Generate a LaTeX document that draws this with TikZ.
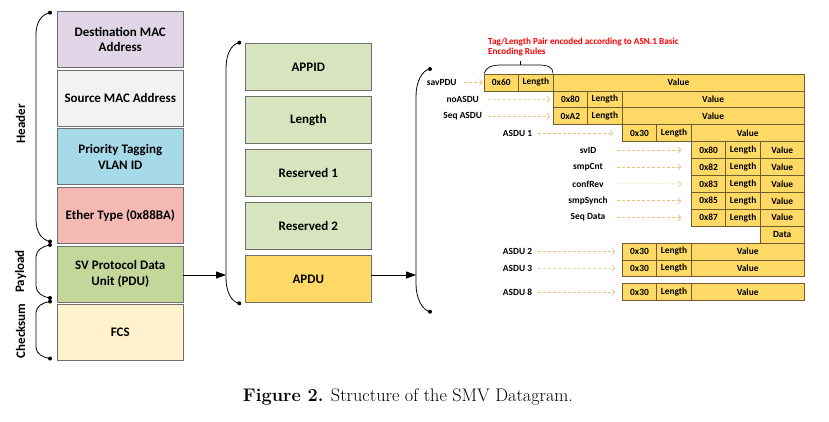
\documentclass[tikz,border=0pt]{standalone}
\usepackage{fontspec}
\newfontfamily\carl{Carlito}
\usetikzlibrary{arrows.meta}
\definecolor{destcol}{HTML}{E1D5E7}
\definecolor{srccol}{HTML}{F2F2F2}
\definecolor{pricol}{HTML}{A7DAE8}
\definecolor{ethcol}{HTML}{F4B9B4}
\definecolor{pducol}{HTML}{C4D79B}
\definecolor{fcscol}{HTML}{FFF2CC}
\definecolor{midcol}{HTML}{D7E4BD}
\definecolor{gold}{HTML}{FFD966}
\definecolor{boxgray}{HTML}{6F6F6F}
\definecolor{celldraw}{HTML}{6E5E2E}
\definecolor{dashcol}{HTML}{EDC27C}
\definecolor{redtxt}{HTML}{FF0000}
\begin{document}
\begin{tikzpicture}[x=1pt,y=-1pt,
  lbox/.style={draw=boxgray, line width=0.8pt, minimum width=126pt, minimum height=56pt, anchor=north west, inner sep=0pt, outer sep=0pt, align=center, font=\carl\bfseries\fontsize{13}{15.5}\selectfont},
  mbox/.style={lbox, minimum height=47.5pt},
  cell/.style={draw=celldraw, fill=gold, line width=0.8pt, minimum width=34.55pt, minimum height=16.9pt, anchor=north west, inner sep=0pt, outer sep=0pt, font=\carl\bfseries\fontsize{9.4}{11}\selectfont},
  tlabel/.style={font=\carl\bfseries\fontsize{9.4}{11}\selectfont, inner sep=0pt, outer sep=0pt, align=center},
  darr/.style={draw=dashcol, dash pattern=on 3pt off 2pt, line width=0.7pt, -{Straight Barb[length=2.5pt,width=6pt]}},
  arr/.style={line width=0.8pt, -{Triangle[length=10pt,width=7pt]}},
  brk/.style={line width=0.8pt},
  bdot/.style={circle, fill=black, inner sep=0pt, minimum size=4pt},
  side/.style={rotate=90, font=\carl\bfseries\fontsize{13}{15}\selectfont, inner sep=0pt}]
\useasboundingbox (0,0) rectangle (829,421);

% ---------- left column ----------
\node[lbox, fill=destcol] (dest) at (57.3,11.5) {Destination MAC\\Address};
\node[lbox, fill=srccol] (src) at (57.3,70.1) {Source MAC Address};
\node[lbox, fill=pricol] (prio) at (57.3,128.7) {Priority Tagging\\VLAN ID};
\node[lbox, fill=ethcol] (eth) at (57.3,187.3) {Ether Type (0x88BA)};
\node[lbox, fill=pducol] (pdu) at (57.3,245.9) {SV Protocol Data\\Unit (PDU)};
\node[lbox, fill=fcscol] (fcs) at (57.3,304.5) {FCS};

% left brackets
\node[bdot] (hT) at (50,12.7) {};
\node[bdot] (hB) at (50,241.5) {};
\node[bdot] (pT) at (50,245) {};
\node[bdot] (pB) at (50,298) {};
\node[bdot] (cT) at (50,301.5) {};
\node[bdot] (cB) at (50,358.5) {};
\draw[brk] (hT.center) .. controls (42,14) and (36,22) .. (36,34) -- (36,220) .. controls (36,232) and (42,240) .. (hB.center);
\draw[brk] (pT.center) .. controls (43,246) and (36,250) .. (36,257) -- (36,286) .. controls (36,293) and (43,297) .. (pB.center);
\draw[brk] (cT.center) .. controls (43,302.5) and (36,306) .. (36,313) -- (36,347) .. controls (36,354) and (43,357.5) .. (cB.center);
\node[side] (hdr) at (20.7,124) {Header};
\node[side] (pay) at (20.7,271.5) {Payload};
\node[side] (chk) at (20.7,331) {Checksum};

% ---------- middle column ----------
\node[mbox, fill=midcol] (appid) at (245.3,43.3) {APPID};
\node[mbox, fill=midcol] (len) at (245.3,96.3) {Length};
\node[mbox, fill=midcol] (res1) at (245.3,149.3) {Reserved 1};
\node[mbox, fill=midcol] (res2) at (245.3,202.3) {Reserved 2};
\node[mbox, fill=gold] (apdu) at (245.3,255.3) {APDU};

\node[bdot] (mT) at (239.3,42.7) {};
\node[bdot] (mB) at (239.3,303.3) {};
\draw[brk] (mT.center) .. controls (231,44) and (226,55) .. (226,68) -- (226,278) .. controls (226,291) and (231,302) .. (mB.center);
\coordinate (mIn) at (226,275);
\draw[arr] (pdu.east |- mIn) -- (mIn);

% ---------- right bracket ----------
\node[bdot] (rT) at (430,69) {};
\node[bdot] (rB) at (430,311.7) {};
\draw[brk] (rT.center) .. controls (422,70) and (416,82) .. (416,96) -- (416,284) .. controls (416,298) and (422,310) .. (rB.center);
\coordinate (rIn) at (416,275);
\draw[arr] (apdu.east |- rIn) -- (rIn);

% ---------- table ----------
% savPDU row
\node[cell] (t60) at (484,74) {0x60};
\node[cell] (t60l) at (518.55,74) {Length};
\node[cell, minimum width=250.9pt] (t60v) at (553.1,74) {Value};
% noASDU row
\node[cell] (t80) at (553.1,90.9) {0x80};
\node[cell] (t80l) at (587.65,90.9) {Length};
\node[cell, minimum width=181.8pt] (t80v) at (622.2,90.9) {Value};
% Seq ASDU row
\node[cell] (tA2) at (553.1,107.8) {0xA2};
\node[cell] (tA2l) at (587.65,107.8) {Length};
\node[cell, minimum width=181.8pt] (tA2v) at (622.2,107.8) {Value};
% ASDU 1 row
\node[cell] (a1) at (622.2,124.7) {0x30};
\node[cell] (a1l) at (656.75,124.7) {Length};
\node[cell, minimum width=112.7pt] (a1v) at (691.3,124.7) {Value};
% sub rows
\node[cell] (s1) at (691.3,141.6) {0x80};
\node[cell] (s1l) at (725.85,141.6) {Length};
\node[cell, minimum width=43.6pt] (s1v) at (760.4,141.6) {Value};
\node[cell] (s2) at (691.3,158.5) {0x82};
\node[cell] (s2l) at (725.85,158.5) {Length};
\node[cell, minimum width=43.6pt] (s2v) at (760.4,158.5) {Value};
\node[cell] (s3) at (691.3,175.4) {0x83};
\node[cell] (s3l) at (725.85,175.4) {Length};
\node[cell, minimum width=43.6pt] (s3v) at (760.4,175.4) {Value};
\node[cell] (s4) at (691.3,192.3) {0x85};
\node[cell] (s4l) at (725.85,192.3) {Length};
\node[cell, minimum width=43.6pt] (s4v) at (760.4,192.3) {Value};
\node[cell] (s5) at (691.3,209.2) {0x87};
\node[cell] (s5l) at (725.85,209.2) {Length};
\node[cell, minimum width=43.6pt] (s5v) at (760.4,209.2) {Value};
\node[cell, minimum width=43.6pt] (sdat) at (760.4,226.1) {Data};
% ASDU 2, 3, 8
\node[cell] (a2) at (622.2,243) {0x30};
\node[cell] (a2l) at (656.75,243) {Length};
\node[cell, minimum width=112.7pt] (a2v) at (691.3,243) {Value};
\node[cell] (a3) at (622.2,259.9) {0x30};
\node[cell] (a3l) at (656.75,259.9) {Length};
\node[cell, minimum width=112.7pt] (a3v) at (691.3,259.9) {Value};
\node[cell] (a8) at (622.2,283.8) {0x30};
\node[cell] (a8l) at (656.75,283.8) {Length};
\node[cell, minimum width=112.7pt] (a8v) at (691.3,283.8) {Value};

% labels
\node[tlabel] (Lsav) at (441.7,82.45) {savPDU};
\node[tlabel, minimum width=39pt] (Lno) at (462.7,99.35) {noASDU};
\node[tlabel, minimum width=39pt] (Lseq) at (462.7,116.25) {Seq ASDU};
\node[tlabel, minimum width=30pt] (L1) at (517.5,133.15) {ASDU 1};
\node[tlabel, minimum width=42pt] (Lsv) at (588,150.05) {svID};
\node[tlabel, minimum width=42pt] (Lcnt) at (588,166.95) {smpCnt};
\node[tlabel, minimum width=42pt] (Lconf) at (588,183.85) {confRev};
\node[tlabel, minimum width=42pt] (Lsyn) at (588,200.75) {smpSynch};
\node[tlabel, minimum width=42pt] (Lseqd) at (588,217.65) {Seq Data};
\node[tlabel, minimum width=30pt] (L2) at (517.5,251.45) {ASDU 2};
\node[tlabel, minimum width=30pt] (L3) at (517.5,268.35) {ASDU 3};
\node[tlabel, minimum width=30pt] (L8) at (517.5,292.25) {ASDU 8};

% dashed arrows
\draw[darr] ([xshift=7pt]Lsav.east) -- ([xshift=-1.5pt]t60.west);
\draw[darr] ([xshift=6pt]Lno.east) -- ([xshift=-3pt]t80.west);
\draw[darr] ([xshift=6pt]Lseq.east) -- ([xshift=-3pt]tA2.west);
\draw[darr] ([xshift=5.5pt]L1.east) -- ([xshift=-9pt]a1.west);
\draw[darr] ([xshift=7.7pt]Lsv.east) -- ([xshift=-10pt]s1.west);
\draw[darr] ([xshift=7.7pt]Lcnt.east) -- ([xshift=-10pt]s2.west);
\draw[darr] ([xshift=7.7pt]Lconf.east) -- ([xshift=-10pt]s3.west);
\draw[darr] ([xshift=7.7pt]Lsyn.east) -- ([xshift=-10pt]s4.west);
\draw[darr] ([xshift=7.7pt]Lseqd.east) -- ([xshift=-10pt]s5.west);
\draw[darr] ([xshift=5.5pt]L2.east) -- ([xshift=-7pt]a2.west);
\draw[darr] ([xshift=5.5pt]L3.east) -- ([xshift=-7pt]a3.west);
\draw[darr] ([xshift=5.5pt]L8.east) -- ([xshift=-7pt]a8.west);

% brace and red note
\draw[line width=0.7pt] (t60.north west) ++(0,-0.5) .. controls (486,67) and (492,65) .. (502,65) -- (538,65) .. controls (548,65) and (553,67) .. ([yshift=0.5pt]t60l.north east);
\coordinate (brTip) at (520,60.5);
\draw[line width=0.7pt] (520,65) -- (brTip);
\node[anchor=north west, text=redtxt, align=left, inner sep=0pt, font=\carl\bfseries\fontsize{9.2}{10.7}\selectfont] (note) at (488,37.5) {Tag/Length Pair encoded according to ASN.1 Basic\\Encoding Rules};

% caption
\node[anchor=base, inner sep=0pt, font=\fontsize{18.2}{22}\selectfont] (cap) at (408,401.7) {\textbf{Figure 2.} Structure of the SMV Datagram.};
\end{tikzpicture}
\end{document}
